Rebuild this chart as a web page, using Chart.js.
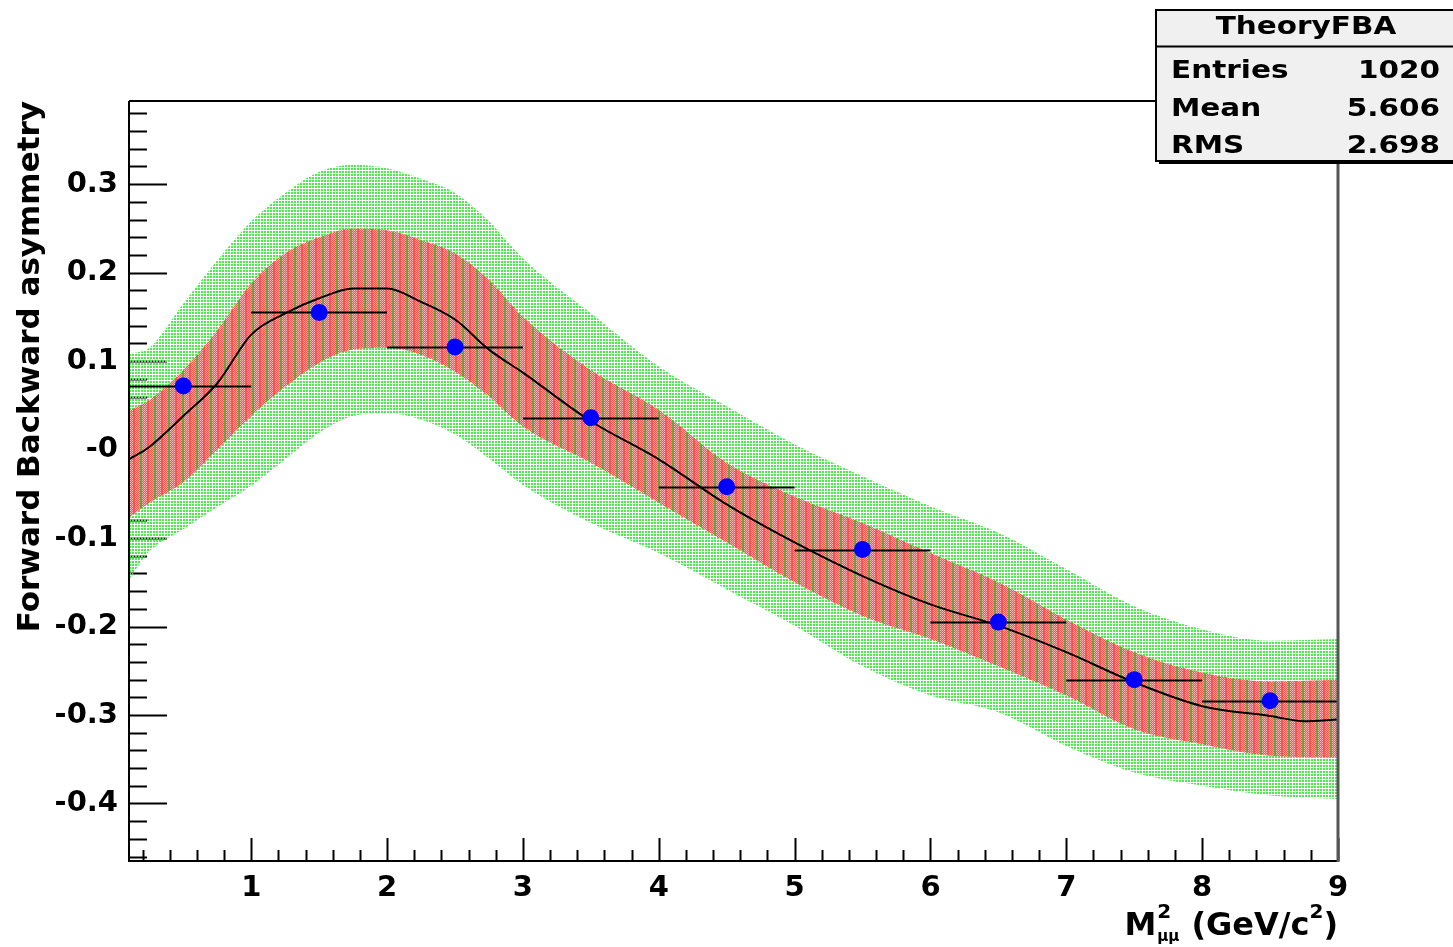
<!DOCTYPE html>
<html>
<head>
<meta charset="utf-8">
<script src="https://cdn.jsdelivr.net/npm/chart.js@4.4.0/dist/chart.umd.min.js"></script>
<style>
  html, body { margin: 0; padding: 0; background: #fff; }
  #wrap { position: relative; width: 1453px; height: 947px; }
</style>
</head>
<body>
<div id="wrap"><canvas id="fbaChart"></canvas></div>
<script>
// theory bands, sampled along M^2 (GeV^2/c^2)
const bandX   = [0.1, 0.25, 0.5, 0.75, 1, 1.25, 1.5, 1.75, 2, 2.25, 2.5, 2.75, 3, 3.5, 4, 4.5, 5, 5.5, 6, 6.5, 7, 7.5, 8, 8.5, 9];
const outerHi = [0.108, 0.115, 0.165, 0.214, 0.258, 0.290, 0.314, 0.322, 0.318, 0.306, 0.290, 0.258, 0.216, 0.154, 0.094, 0.049, 0.006, -0.030, -0.064, -0.094, -0.135, -0.177, -0.203, -0.216, -0.214];
const outerLo = [-0.147, -0.115, -0.090, -0.065, -0.041, -0.011, 0.019, 0.038, 0.041, 0.034, 0.017, -0.010, -0.040, -0.083, -0.117, -0.158, -0.199, -0.245, -0.278, -0.297, -0.335, -0.365, -0.380, -0.391, -0.395];
const innerHi = [0.044, 0.056, 0.090, 0.135, 0.188, 0.222, 0.240, 0.250, 0.248, 0.237, 0.222, 0.192, 0.150, 0.090, 0.045, -0.015, -0.053, -0.083, -0.117, -0.150, -0.192, -0.229, -0.252, -0.262, -0.260];
const innerLo = [-0.077, -0.060, -0.037, 0.000, 0.038, 0.071, 0.098, 0.113, 0.115, 0.107, 0.088, 0.060, 0.026, -0.015, -0.060, -0.105, -0.150, -0.188, -0.214, -0.245, -0.278, -0.316, -0.333, -0.346, -0.348];

// central theory curve
const theoryX = [0.1, 0.25, 0.5, 0.75, 1, 1.25, 1.5, 1.75, 2, 2.25, 2.5, 2.75, 3, 3.5, 4, 4.5, 5, 5.5, 6, 6.5, 7, 7.5, 8, 8.5, 8.75, 9];
const theoryY = [-0.011, 0.003, 0.038, 0.075, 0.130, 0.154, 0.171, 0.182, 0.182, 0.167, 0.147, 0.113, 0.087, 0.032, -0.011, -0.062, -0.105, -0.143, -0.175, -0.199, -0.229, -0.263, -0.290, -0.301, -0.307, -0.305];

// measured points (bin centres, half widths)
const dataX    = [0.5, 1.5, 2.5, 3.5, 4.5, 5.5, 6.5, 7.5, 8.5];
const dataY    = [0.072, 0.155, 0.116, 0.036, -0.042, -0.113, -0.195, -0.260, -0.284];
const dataXErr = [0.5, 0.5, 0.5, 0.5, 0.5, 0.5, 0.5, 0.5, 0.5];

const xTickValues = [1, 2, 3, 4, 5, 6, 7, 8, 9];
const xTickLabels = ['1', '2', '3', '4', '5', '6', '7', '8', '9'];
const yTickValues = [-0.4, -0.3, -0.2, -0.1, 0, 0.1, 0.2, 0.3];
const yTickLabels = ['-0.4', '-0.3', '-0.2', '-0.1', '-0', '0.1', '0.2', '0.3'];

const statsTitle = 'TheoryFBA';
const statsNames = ['Entries', 'Mean', 'RMS'];
const statsValues = ['1020', '5.606', '2.698'];

const FONT = 'DejaVu Sans';
const canvas = document.getElementById('fbaChart');
const ctx = canvas.getContext('2d');

function makePattern(w, h, paint) {
    const c = document.createElement('canvas');
    c.width = w; c.height = h;
    paint(c.getContext('2d'));
    return ctx.createPattern(c, 'repeat');
}

const greenDots = makePattern(3, 3, g => {
    g.fillStyle = 'rgb(80,232,80)';
    g.fillRect(0, 0, 2, 2);
});
const redHatch = makePattern(7, 2, g => {
    g.fillStyle = 'rgb(255,80,80)';
    g.fillRect(0, 0, 7, 2);
    g.fillStyle = 'rgb(255,185,185)';
    [[2, 0], [4, 0], [6, 0], [3, 1], [5, 1]].forEach(p => g.fillRect(p[0], p[1], 1, 1));
    g.fillStyle = 'rgb(95,170,60)';
    g.fillRect(0, 0, 1, 2);
});

const pts = (xs, ys) => xs.map((x, i) => ({ x: x, y: ys[i] }));
const band = { borderWidth: 0, pointRadius: 0, cubicInterpolationMode: 'monotone' };

const errorBars = {
    id: 'errorBars',
    beforeDatasetDraw(chart, args) {
        if (args.index !== 5) return;
        const { ctx, chartArea: a, scales: { x, y } } = chart;
        ctx.save();
        ctx.beginPath();
        ctx.rect(a.left, a.top, a.width, a.height);
        ctx.clip();
        ctx.strokeStyle = '#000';
        ctx.lineWidth = 2;
        dataX.forEach((v, i) => {
            const py = Math.round(y.getPixelForValue(dataY[i])) + 0.5;
            ctx.beginPath();
            ctx.moveTo(x.getPixelForValue(v - dataXErr[i]), py);
            ctx.lineTo(x.getPixelForValue(v + dataXErr[i]), py);
            ctx.stroke();
        });
        ctx.restore();
    }
};

const frameAndTicks = {
    id: 'frameAndTicks',
    // ticks go under the bands, as in the original plot
    beforeDatasetsDraw(chart) {
        const { ctx, chartArea: a, scales: { x, y } } = chart;
        ctx.save();
        ctx.strokeStyle = '#000';
        ctx.lineWidth = 2;
        for (let k = -23; k <= 19; k++) {
            const v = k * 0.02;
            const py = Math.round(y.getPixelForValue(v)) + 0.5;
            if (py < a.top || py > a.bottom) continue;
            const major = k % 5 === 0;
            ctx.beginPath();
            ctx.moveTo(a.left, py);
            ctx.lineTo(a.left + (major ? 38 : 18), py);
            ctx.stroke();
        }
        for (let k = 1; k <= 45; k++) {
            const v = k * 0.2;
            const px = Math.round(x.getPixelForValue(v)) + 0.5;
            if (px < a.left || px > a.right + 1) continue;
            const major = k % 5 === 0;
            ctx.beginPath();
            ctx.moveTo(px, a.bottom);
            ctx.lineTo(px, a.bottom - (major ? 23 : 11));
            ctx.stroke();
        }
        ctx.restore();
    },
    afterDatasetsDraw(chart) {
        const { ctx, chartArea: a } = chart;
        ctx.save();
        ctx.strokeStyle = '#000';
        ctx.lineWidth = 2;
        ctx.beginPath();
        ctx.moveTo(a.left, a.top);
        ctx.lineTo(a.right, a.top);
        ctx.moveTo(a.left, a.top);
        ctx.lineTo(a.left, a.bottom);
        ctx.lineTo(a.right, a.bottom);
        ctx.stroke();
        ctx.strokeStyle = '#555';
        ctx.lineWidth = 3;
        ctx.beginPath();
        ctx.moveTo(a.right, a.top);
        ctx.lineTo(a.right, a.bottom + 1);
        ctx.stroke();
        ctx.restore();
    },
    afterDraw(chart) {
        const { ctx, chartArea: a } = chart;
        ctx.save();
        ctx.fillStyle = '#000';
        ctx.textBaseline = 'alphabetic';
        // x axis title: M^2_{mumu} (GeV/c^2), right aligned at axis end
        const big = 'bold 32px "' + FONT + '"';
        const sup = 'bold 20px "' + FONT + '"';
        const sub = 'bold 15px "' + FONT + '"';
        const base = 935;
        ctx.font = big; const wM = ctx.measureText('M').width;
        const wMid = ctx.measureText(' (GeV/c').width;
        const wEnd = ctx.measureText(')').width;
        ctx.font = sup; const w2 = ctx.measureText('2').width;
        ctx.font = sub; const wMu = ctx.measureText('\u03bc\u03bc').width;
        const total = wM + Math.max(w2, wMu) + 2 + wMid + w2 + wEnd;
        let cx = a.right - total;
        ctx.font = big; ctx.fillText('M', cx, base); cx += wM + 1;
        ctx.font = sup; ctx.fillText('2', cx, base - 17);
        ctx.font = sub; ctx.fillText('\u03bc\u03bc', cx, base + 6);
        cx += Math.max(w2, wMu) + 1;
        ctx.font = big; ctx.fillText(' (GeV/c', cx, base); cx += wMid;
        ctx.font = sup; ctx.fillText('2', cx, base - 17); cx += w2;
        ctx.font = big; ctx.fillText(')', cx, base);

        // stats box
        const bx = 1156, by = 10, bw = 320, bh = 151;
        ctx.fillStyle = '#000';
        ctx.fillRect(bx + 3, by + bh - 1, bw, 4);
        ctx.fillStyle = '#f0f0f0';
        ctx.fillRect(bx, by, bw, bh);
        ctx.strokeStyle = '#000';
        ctx.lineWidth = 2;
        ctx.strokeRect(bx, by, bw, bh);
        ctx.beginPath();
        ctx.moveTo(bx, 46.5);
        ctx.lineTo(bx + bw, 46.5);
        ctx.stroke();
        ctx.fillStyle = '#000';
        ctx.font = 'bold 25px "' + FONT + '"';
        const stretched = (t, px, py, align) => {
            ctx.save();
            ctx.translate(px, py);
            ctx.scale(1.18, 1);
            ctx.textAlign = align;
            ctx.fillText(t, 0, 0);
            ctx.restore();
        };
        stretched(statsTitle, 1306, 34, 'center');
        const rowBase = [78, 116, 153];
        statsNames.forEach((n, i) => {
            stretched(n, 1171, rowBase[i], 'left');
            stretched(statsValues[i], 1440, rowBase[i], 'right');
        });
        ctx.restore();
    }
};

new Chart(ctx, {
    type: 'line',
    data: {
        datasets: [
            { ...band, data: pts(bandX, outerHi), fill: '+1', backgroundColor: greenDots, order: 5 },
            { ...band, data: pts(bandX, outerLo), fill: false, order: 5 },
            { ...band, data: pts(bandX, innerHi), fill: '+1', backgroundColor: redHatch, order: 4 },
            { ...band, data: pts(bandX, innerLo), fill: false, order: 4 },
            { data: pts(theoryX, theoryY), borderColor: '#000', borderWidth: 2, pointRadius: 0, fill: false,
              cubicInterpolationMode: 'monotone', order: 2 },
            { data: pts(dataX, dataY), showLine: false, pointRadius: 8.5, pointBackgroundColor: '#0000ff', pointBorderWidth: 0, order: 1 }
        ]
    },
    options: {
        responsive: true,
        maintainAspectRatio: false,
        animation: false,
        layout: { padding: { top: 101, right: 115, left: 0, bottom: 0 } },
        plugins: {
            legend: { display: false },
            tooltip: { enabled: false }
        },
        scales: {
            x: {
                type: 'linear', min: 0.1, max: 9,
                grid: { display: false, drawTicks: false },
                border: { display: false },
                afterBuildTicks: s => { s.ticks = xTickValues.map(v => ({ value: v })); },
                afterFit: s => { s.height = 86; },
                ticks: {
                    autoSkip: false, maxRotation: 0, padding: 10, color: '#000',
                    font: { family: FONT, size: 29, weight: 'bold' },
                    callback: (v, i) => xTickLabels[i]
                }
            },
            y: {
                type: 'linear', min: -0.465, max: 0.394,
                grid: { display: false, drawTicks: false },
                border: { display: false },
                afterBuildTicks: s => { s.ticks = yTickValues.map(v => ({ value: v })); },
                afterFit: s => { s.width = 129; },
                ticks: {
                    autoSkip: false, padding: 11, color: '#000',
                    font: { family: FONT, size: 29, weight: 'bold' },
                    callback: (v, i) => yTickLabels[i]
                },
                title: {
                    display: true, text: 'Forward Backward asymmetry', align: 'end', color: '#000',
                    font: { family: FONT, size: 31, weight: 'bold' },
                    padding: { top: 12, bottom: 0 }
                }
            }
        }
    },
    plugins: [errorBars, frameAndTicks]
});
</script>
</body>
</html>
